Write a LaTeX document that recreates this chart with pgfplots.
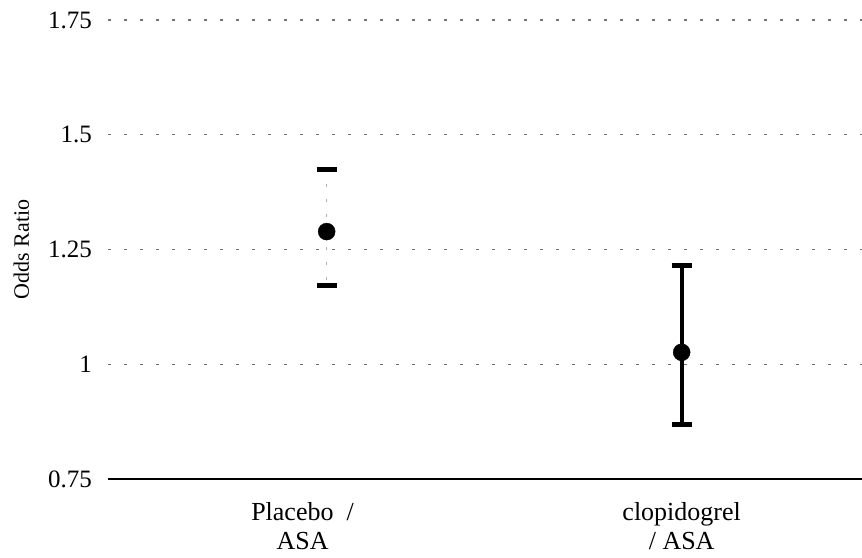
\documentclass[border=0pt]{standalone}
\usepackage{fontspec}
\setmainfont{Liberation Serif}
\usepackage{pgfplots}
\pgfplotsset{compat=1.18}
\begin{document}
\begin{tikzpicture}
\useasboundingbox (-108pt,-78pt) rectangle (754pt,479pt);
\begin{axis}[
  scale only axis,
  width=754pt, height=459pt,
  xmin=0.384, xmax=2.508,
  ymin=0.75, ymax=1.75,
  ytick={0.75,1,1.25,1.5,1.75},
  yticklabels={0.75,1,1.25,1.5,1.75},
  xtick={0.932,2},
  xticklabels={{Placebo\hspace{0.25em} /\\ASA},{clopidogrel\\/ ASA}},
  xticklabel style={align=center, inner sep=0pt, anchor=north, yshift=-23pt, font=\fontsize{26}{29}\selectfont},
  yticklabel style={inner sep=0pt, xshift=-16pt, font=\fontsize{25}{28}\selectfont},
  major tick length=0pt,
  axis x line*=bottom,
  axis y line*=left,
  y axis line style={draw=none},
  x axis line style={black, line width=1.2pt, -},
  ymajorgrids,
  major grid style={black!55, line width=1.2pt, dash pattern=on 3pt off 13pt},
  ylabel={Odds Ratio},
  ylabel style={at={(axis description cs:-0.115,0.5)}, anchor=center, font=\fontsize{22}{26}\selectfont},
  clip=false,
]
\addplot[only marks, mark=*, mark size=8.5pt, black,
  error bars/.cd, y dir=both, y explicit,
  error bar style={black!30, line width=1.5pt, dash pattern=on 3pt off 12pt},
  error mark options={rotate=90, black, line width=5pt, mark size=10pt}]
  coordinates {(1,1.289) += (0,0.135) -= (0,0.117)};
\addplot[only marks, mark=*, mark size=8.5pt, black,
  error bars/.cd, y dir=both, y explicit,
  error bar style={black, line width=4pt},
  error mark options={rotate=90, black, line width=5pt, mark size=10pt}]
  coordinates {(2,1.026) += (0,0.190) -= (0,0.157)};
\end{axis}
\end{tikzpicture}
\end{document}
